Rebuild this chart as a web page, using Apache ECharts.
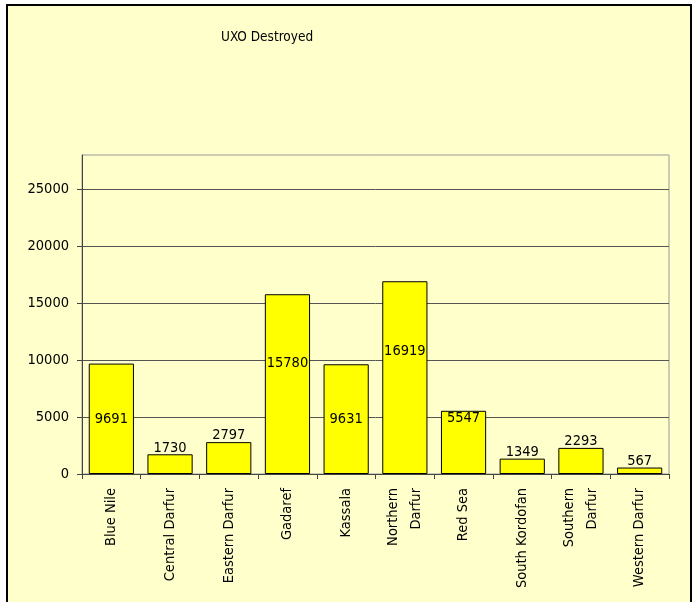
<!DOCTYPE html>
<html><head><meta charset="utf-8">
<script src="https://cdn.jsdelivr.net/npm/echarts@6/dist/echarts.min.js"></script>
<style>html,body{margin:0;padding:0;background:#fff;}#c{width:694px;height:602px;}</style>
</head><body><div id="c"></div>
<script>
const categories = ['Blue Nile','Central Darfur','Eastern Darfur','Gadaref','Kassala','Northern Darfur','Red Sea','South Kordofan','Southern Darfur','Western Darfur'];
const values = [9691,1730,2797,15780,9631,16919,5547,1349,2293,567];
const yTicks = [0,5000,10000,15000,20000,25000];
const titleText = 'UXO Destroyed';

const FONT = '"DejaVu Sans Condensed","Liberation Sans",sans-serif';
const wrapNames = ['Northern Darfur','Southern Darfur'];

function labelCfg(v){
  if (v >= 15000) return {position: 'insideTop', distance: 62};
  if (v >= 9000) return {position: 'inside'};
  if (v >= 5000) return {position: 'insideTop', distance: 0};
  return {position: 'top', distance: -1};
}

const chart = echarts.init(document.getElementById('c'), null, {renderer:'canvas'});
chart.setOption({
  backgroundColor: '#ffffff',
  animation: false,
  graphic: [{
    type: 'rect', z: -10, silent: true,
    shape: {x: 7, y: 5, width: 684, height: 640},
    style: {fill: '#FFFFCC', stroke: '#000', lineWidth: 2}
  }],
  title: {
    text: titleText, left: 216, top: 25,
    textStyle: {fontFamily: FONT, fontSize: 13.5, fontWeight: 'normal', color: '#000'}
  },
  grid: {left: 82, top: 155, right: 25, bottom: 128, show: true, borderColor: '#999', borderWidth: 1, backgroundColor: 'transparent'},
  xAxis: {
    type: 'category', data: categories,
    axisLine: {lineStyle: {color: '#444', width: 1}},
    axisTick: {show: true, length: 5, lineStyle: {color: '#444'}},
    axisLabel: {
      rotate: 90, margin: 14, color: '#000', fontFamily: FONT, fontSize: 14.5, lineHeight: 23,
      formatter: function(n){ return wrapNames.indexOf(n) >= 0 ? n.replace(' ', '\n') : n; }
    }
  },
  yAxis: {
    type: 'value', min: yTicks[0], max: 28000, interval: yTicks[1]-yTicks[0],
    axisLine: {show: true, lineStyle: {color: '#444'}},
    axisTick: {show: true, length: 5, lineStyle: {color: '#444'}},
    axisLabel: {margin: 13, color: '#000', fontFamily: FONT, fontSize: 14.5, showMaxLabel: false,
      formatter: function(v){ return yTicks.indexOf(v) >= 0 ? String(v) : ''; }},
    splitLine: {show: true, showMaxLine: false, lineStyle: {color: '#555', width: 1}}
  },
  series: [{
    type: 'bar',
    barCategoryGap: '23%',
    data: values.map(function(v){
      return {value: v, label: labelCfg(v)};
    }),
    itemStyle: {color: '#FFFF00', borderColor: '#000', borderWidth: 1},
    label: {show: true, color: '#000', fontFamily: FONT, fontSize: 14.5}
  }]
});
</script></body></html>
